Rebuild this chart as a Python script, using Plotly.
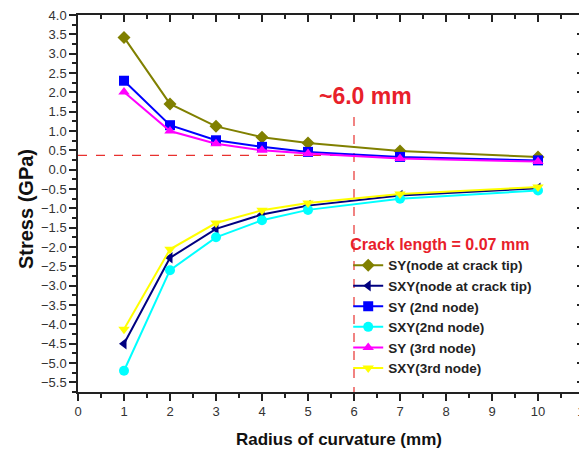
import plotly.graph_objects as go

radius = [1, 2, 3, 4, 5, 7, 10]

sy_tip = [3.42, 1.70, 1.12, 0.84, 0.69, 0.48, 0.33]
sxy_tip = [-4.50, -2.28, -1.53, -1.16, -0.93, -0.67, -0.48]
sy_2nd = [2.30, 1.15, 0.76, 0.59, 0.46, 0.33, 0.24]
sxy_2nd = [-5.20, -2.60, -1.75, -1.31, -1.04, -0.75, -0.54]
sy_3rd = [2.01, 1.00, 0.67, 0.50, 0.42, 0.29, 0.21]
sxy_3rd = [-4.13, -2.06, -1.38, -1.05, -0.86, -0.63, -0.45]

crack_x = 6.0
crack_y = 0.37
vline_top = 1.36
axis_x_range = [0, 11]
axis_y_range = [-5.75, 4.0]

series = [
    ("SY(node at crack tip)", sy_tip, "#808000", "diamond"),
    ("SXY(node at crack tip)", sxy_tip, "#000080", "triangle-left"),
    ("SY (2nd node)", sy_2nd, "#0000FF", "square"),
    ("SXY(2nd node)", sxy_2nd, "#00FFFF", "circle"),
    ("SY (3rd node)", sy_3rd, "#FF00FF", "triangle-up"),
    ("SXY(3rd node)", sxy_3rd, "#FFFF00", "triangle-down"),
]

FONT = "Arial, Liberation Sans, sans-serif"
RED = "#E8202A"

fig = go.Figure()

# reference dashed lines
fig.add_trace(go.Scatter(x=[axis_x_range[0], crack_x], y=[crack_y, crack_y], mode="lines",
                         line=dict(color="#E8312F", width=1.2, dash="dash"),
                         showlegend=False, hoverinfo="skip"))
fig.add_trace(go.Scatter(x=[crack_x, crack_x], y=[vline_top, axis_y_range[0]], mode="lines",
                         line=dict(color="#E8312F", width=1.2, dash="dash"),
                         showlegend=False, hoverinfo="skip"))

for name, vals, color, sym in series:
    fig.add_trace(go.Scatter(
        x=radius, y=vals, name=name, mode="lines+markers",
        line=dict(color=color, width=2),
        marker=dict(symbol=sym, size=10, color=color),
    ))

# invisible trace to carry the mirrored (inside-tick) top/right axes
fig.add_trace(go.Scatter(x=[axis_x_range[0]], y=[axis_y_range[0]], xaxis="x2", yaxis="y2",
                         mode="markers", marker=dict(opacity=0), showlegend=False, hoverinfo="skip"))

fig.add_annotation(x=6.25, y=1.91, xref="x", yref="y", text="<b>~6.0 mm</b>",
                   showarrow=False, font=dict(family=FONT, size=23, color=RED))

# axis titles
fig.add_annotation(x=-0.103, y=0.485, xref="paper", yref="paper", text="<b>Stress (GPa)</b>",
                   textangle=-90, showarrow=False, xanchor="center", yanchor="middle",
                   font=dict(family=FONT, size=20, color="#111111"))
fig.add_annotation(x=0.516, y=-0.127, xref="paper", yref="paper", text="<b>Radius of curvature (mm)</b>",
                   showarrow=False, xanchor="center", yanchor="middle",
                   font=dict(family=FONT, size=17, color="#111111"))

axis_font = dict(family=FONT, size=13, color="#333333")
line_col = "#222222"

# page body has an 8px default margin, so the figure is 8px smaller than the window
fig.update_layout(
    width=579, height=444,
    margin=dict(l=70, r=3, t=7, b=60, autoexpand=False),
    paper_bgcolor="white", plot_bgcolor="white",
    font=dict(family=FONT),
    legend=dict(
        x=0.534, y=0.432, xanchor="left", yanchor="top",
        bgcolor="rgba(0,0,0,0)",
        title=dict(text="<b>Crack length = 0.07 mm</b>",
                   font=dict(family=FONT, size=16, color=RED)),
        font=dict(family=FONT, size=13.5, color="#222222", weight="bold"),
        tracegroupgap=0, itemwidth=30,
    ),
    xaxis=dict(
        range=axis_x_range, dtick=1, tick0=0, automargin=False, ticklabeloverflow="allow",
        showgrid=False, zeroline=False,
        showline=True, linecolor=line_col, linewidth=1.5, mirror=True,
        ticks="outside", ticklen=7, tickwidth=1.5, tickcolor=line_col,
        minor=dict(dtick=0.5, ticks="outside", ticklen=4, tickwidth=1.5, tickcolor=line_col),
        tickfont=axis_font,
    ),
    yaxis=dict(
        range=axis_y_range, dtick=0.5, tick0=0, tickformat=".1f", automargin=False,
        ticklabeloverflow="allow",
        showgrid=False, zeroline=False,
        showline=True, linecolor=line_col, linewidth=1.5, mirror=True,
        ticks="outside", ticklen=7, tickwidth=1.5, tickcolor=line_col,
        minor=dict(dtick=0.25, ticks="outside", ticklen=4, tickwidth=1.5, tickcolor=line_col),
        tickfont=axis_font,
    ),
    xaxis2=dict(
        overlaying="x", side="top", range=axis_x_range, dtick=1, tick0=0, automargin=False,
        showgrid=False, zeroline=False, showline=False, showticklabels=False,
        ticks="inside", ticklen=7, tickwidth=1.5, tickcolor=line_col,
        minor=dict(dtick=0.5, ticks="inside", ticklen=4, tickwidth=1.5, tickcolor=line_col),
    ),
    yaxis2=dict(
        overlaying="y", side="right", range=axis_y_range, dtick=0.5, tick0=0, automargin=False,
        showgrid=False, zeroline=False, showline=False, showticklabels=False,
        ticks="inside", ticklen=7, tickwidth=1.5, tickcolor=line_col,
        minor=dict(dtick=0.25, ticks="inside", ticklen=4, tickwidth=1.5, tickcolor=line_col),
    ),
)

fig.write_html("out.html")
